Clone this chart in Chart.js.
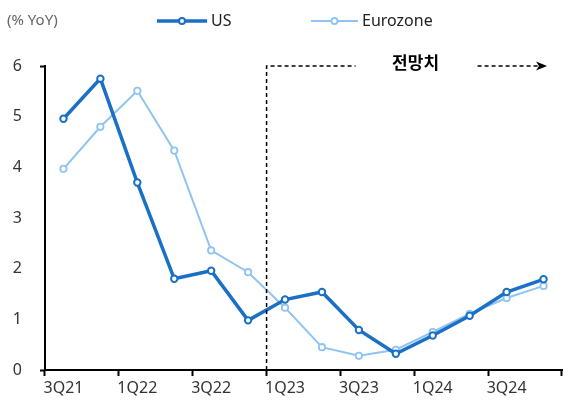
<!DOCTYPE html>
<html><head><meta charset="utf-8">
<script src="https://cdn.jsdelivr.net/npm/chart.js@4/dist/chart.umd.min.js"></script>
<style>html,body{margin:0;padding:0;background:#fff;overflow:hidden}#w{width:568px;height:401px;position:relative}</style>
</head><body><div id="w"><canvas id="c"></canvas></div>
<script>
const categories = ['3Q21','4Q21','1Q22','2Q22','3Q22','4Q22','1Q23','2Q23','3Q23','4Q23','1Q24','2Q24','3Q24','4Q24'];
const usValues = [4.96, 5.75, 3.70, 1.80, 1.96, 0.98, 1.39, 1.54, 0.79, 0.32, 0.68, 1.07, 1.54, 1.79];
const euroValues = [3.97, 4.80, 5.51, 4.33, 2.36, 1.93, 1.23, 0.45, 0.28, 0.40, 0.75, 1.11, 1.42, 1.66];
const yTicks = [0, 1, 2, 3, 4, 5, 6];
const forecastStart = '1Q23';
const unitLabel = '(% YoY)';
const forecastLabel = '전망치';

const FONT = "'Noto Sans', 'Noto Sans CJK KR', sans-serif";
const US_COLOR = '#1a6fc6';
const EU_COLOR = '#90c4f0';

const overlay = {
  id: 'overlay',
  afterDraw(chart) {
    const ctx = chart.ctx;
    const x = chart.scales.x, y = chart.scales.y;
    const ca = chart.chartArea;
    const i = categories.indexOf(forecastStart);
    const bx = (x.getPixelForValue(i - 1) + x.getPixelForValue(i)) / 2;
    const ty = y.getPixelForValue(6);
    ctx.save();
    ctx.strokeStyle = '#000';
    ctx.lineWidth = 1.5;
    ctx.setLineDash([4, 3]);
    ctx.beginPath();
    ctx.moveTo(bx, ca.bottom);
    ctx.lineTo(bx, ty);
    ctx.lineTo(bx + 89, ty);
    ctx.stroke();
    const ax0 = bx + 211, ax1 = ca.right - 15;
    ctx.beginPath();
    ctx.moveTo(ax0, ty);
    ctx.lineTo(ax1 - 8, ty);
    ctx.stroke();
    ctx.setLineDash([]);
    ctx.fillStyle = '#000';
    ctx.beginPath();
    ctx.moveTo(ax1, ty);
    ctx.lineTo(ax1 - 11, ty - 4.5);
    ctx.lineTo(ax1 - 8, ty);
    ctx.lineTo(ax1 - 11, ty + 4.5);
    ctx.closePath();
    ctx.fill();
    ctx.font = "bold 17px 'Noto Sans CJK KR', sans-serif";
    ctx.textAlign = 'center';
    ctx.textBaseline = 'middle';
    ctx.fillText(forecastLabel, bx + 149, ty - 3);

    // unit label
    ctx.font = '15px ' + FONT;
    ctx.fillStyle = '#666';
    ctx.textAlign = 'left';
    ctx.fillText(unitLabel, 7, 21);

    // legend
    const items = [
      {ds: chart.data.datasets[0], x0: 157, x1: 207},
      {ds: chart.data.datasets[1], x0: 311, x1: 358}
    ];
    const ly = 21;
    items.forEach(it => {
      ctx.strokeStyle = it.ds.borderColor;
      ctx.lineWidth = it.ds.borderWidth;
      ctx.beginPath();
      ctx.moveTo(it.x0, ly); ctx.lineTo(it.x1, ly); ctx.stroke();
      ctx.fillStyle = '#fff';
      ctx.lineWidth = it.ds.pointBorderWidth;
      ctx.beginPath();
      ctx.arc((it.x0 + it.x1) / 2, ly, 3, 0, Math.PI * 2);
      ctx.fill(); ctx.stroke();
      ctx.fillStyle = '#222';
      ctx.font = '16px ' + FONT;
      ctx.fillText(it.ds.label, it.x1 + 4, ly);
    });
    ctx.restore();
  }
};

new Chart(document.getElementById('c'), {
  type: 'line',
  data: {
    labels: categories,
    datasets: [
      {label: 'US', data: usValues, borderColor: US_COLOR, backgroundColor: '#fff',
       borderWidth: 3.5, pointRadius: 3.2, pointBorderWidth: 2, pointBackgroundColor: '#fff',
       pointBorderColor: US_COLOR, tension: 0, order: 1},
      {label: 'Eurozone', data: euroValues, borderColor: EU_COLOR, backgroundColor: '#fff',
       borderWidth: 2, pointRadius: 3.2, pointBorderWidth: 1.8, pointBackgroundColor: '#fff',
       pointBorderColor: EU_COLOR, tension: 0, order: 2}
    ]
  },
  options: {
    responsive: true,
    maintainAspectRatio: false,
    animation: false,
    layout: {padding: {top: 66, right: 2, left: 0, bottom: 0}},
    plugins: {legend: {display: false}, tooltip: {enabled: false}},
    scales: {
      x: {
        offset: true,
        afterFit(s) { s.height = 31; },
        grid: {
          offset: true, drawOnChartArea: false, drawTicks: true, tickLength: 6, tickWidth: 2,
          tickColor: (c) => (c.index === undefined || c.index % 2 === 0) ? '#000' : 'rgba(0,0,0,0)'
        },
        border: {color: '#000', width: 2},
        ticks: {
          autoSkip: false, maxRotation: 0, padding: 3, color: '#333',
          font: {family: FONT, size: 16},
          callback: (v, i) => i % 2 === 0 ? categories[i] : ''
        }
      },
      y: {
        min: 0, max: 6,
        afterFit(s) { s.width = 45; },
        afterBuildTicks(s) { s.ticks = yTicks.map(v => ({value: v})); },
        grid: {
          drawOnChartArea: false, drawTicks: true, tickLength: 5, tickWidth: 2,
          tickColor: (c) => (c.tick && (c.tick.value === 6 || c.tick.value === 0)) ? '#000' : 'rgba(0,0,0,0)'
        },
        border: {color: '#000', width: 2},
        ticks: {padding: 18, color: '#333', font: {family: FONT, size: 16}}
      }
    }
  },
  plugins: [overlay]
});
</script></body></html>
